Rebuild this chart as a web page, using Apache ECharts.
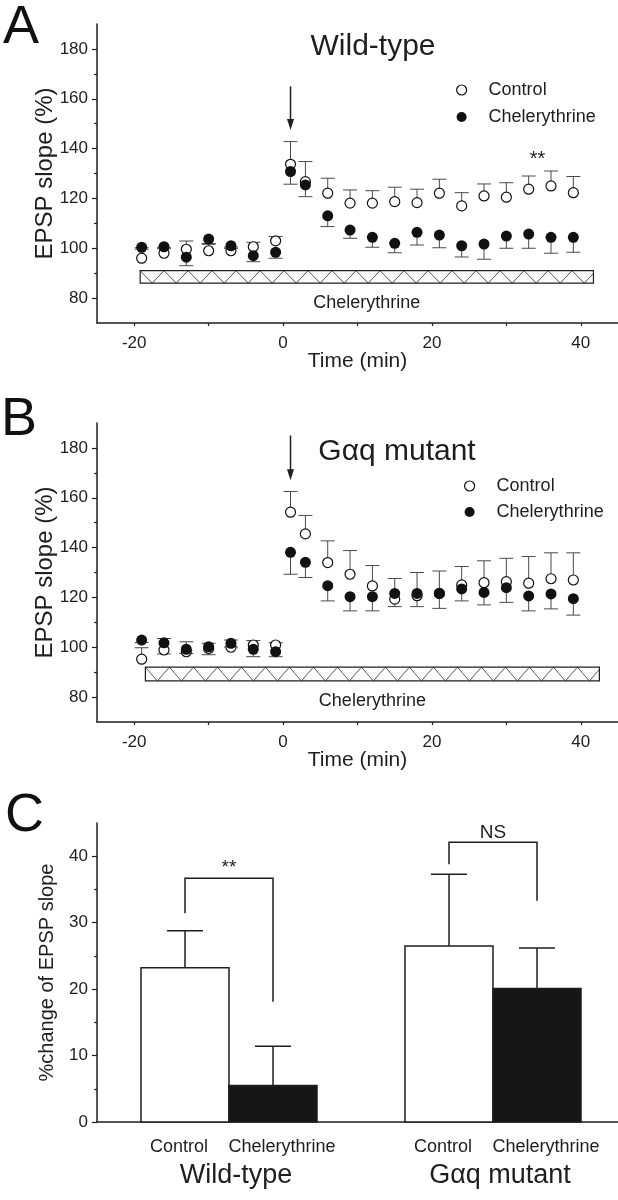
<!DOCTYPE html>
<html><head><meta charset="utf-8">
<script src="https://cdn.jsdelivr.net/npm/echarts@6/dist/echarts.min.js"></script>
<style>html,body{margin:0;padding:0;background:#fff}#c{width:618px;height:1200px}</style>
</head><body><div id="c"></div>
<script>
// ---------- data ----------
const times = [-19,-16,-13,-10,-7,-4,-1,1,3,6,9,12,15,18,21,24,27,30,33,36,39];

const wtControl    = [96.0, 98.0, 99.6, 99.0, 99.0, 100.6, 103.0, 133.7, 126.7, 122.1, 118.1, 118.1, 118.7, 118.3, 122.1, 117.0, 121.0, 120.5, 123.7, 125.0, 122.3];
const wtControlErr = [4.2, 2.4, 3.3, 2.6, 1.5, 1.8, 1.7, 9.1, 8.1, 6.0, 5.3, 5.0, 5.8, 5.4, 5.6, 5.3, 4.8, 5.8, 5.3, 6.0, 6.5];
const wtChel       = [100.4, 100.6, 96.4, 103.7, 101.0, 97.0, 98.4, 130.8, 125.4, 113.0, 107.3, 104.4, 102.0, 106.4, 105.3, 101.0, 101.7, 104.9, 105.7, 104.4, 104.4];
const wtChelErr    = [0.8, 0.8, 3.4, 1.8, 1.0, 2.4, 2.4, 5.1, 4.7, 4.3, 3.3, 4.0, 3.8, 5.1, 5.1, 4.5, 6.1, 4.9, 5.7, 6.4, 6.0];

const mutControl    = [95.2, 98.9, 98.2, 99.5, 100.0, 100.9, 100.9, 154.2, 145.5, 134.0, 129.3, 124.6, 119.3, 120.7, 121.6, 125.0, 125.9, 126.3, 125.7, 127.5, 127.0];
const mutControlErr = [4.6, 4.6, 4.0, 2.1, 2.9, 1.8, 0.9, 8.3, 7.4, 8.7, 9.5, 8.2, 8.3, 9.3, 9.0, 7.4, 8.8, 9.4, 10.7, 10.4, 10.9];
const mutChel       = [102.9, 101.8, 99.2, 100.2, 101.6, 99.2, 98.2, 138.1, 134.1, 124.7, 120.3, 120.3, 121.6, 121.6, 121.6, 123.4, 122.0, 123.9, 120.6, 121.4, 119.5];
const mutChelErr    = [1.0, 4.5, 1.7, 3.2, 1.5, 3.0, 2.0, 8.8, 6.1, 6.1, 5.7, 5.7, 5.3, 5.3, 6.0, 4.8, 5.0, 5.9, 6.0, 6.0, 6.6];

const seriesNames = ['Control', 'Chelerythrine'];
const panelTitles = ['Wild-type', 'Gαq mutant'];
const panelLetters = ['A', 'B', 'C'];
const drugLabel = 'Chelerythrine';

const xTickLabels = [-20, 0, 20, 40];
const xTicks = [-20, -10, 0, 10, 20, 30, 40];
const yTickLabels = [80, 100, 120, 140, 160, 180];
const yMinorTicks = [90, 110, 130, 150, 170];

// drug application bar: [start, end, bottom, top]
const drugA = [-19.2, 41.7, 86, 91];
const drugB = [-18.5, 42.5, 86.5, 92];
// arrow: [time, from, to]
const arrowA = [1, 165, 147.5];
const arrowB = [1, 185, 167];
// significance mark in A: [time, value]
const starA = [34.2, 135.5];
const starALabel = '**';

// panel C
const barCats = ['Control', 'Chelerythrine', 'Control', 'Chelerythrine'];
const barGroups = ['Wild-type', 'Gαq mutant'];
const barValues = [23.2, 5.5, 26.5, 20.1];
const barErr = [5.6, 5.9, 10.8, 6.1];
const cTickLabels = [0, 10, 20, 30, 40];
const cMinorTicks = [5, 15, 25, 35];
// [leftBar, rightBar, top, leftEnd, rightEnd]
const brackets = [[0, 1, 36.7, 31.4, 18.1], [2, 3, 42.1, 38.8, 33.3]];
const bracketLabels = ['**', 'NS'];

// ---------- chart ----------
const FONT = '"Liberation Sans", Arial, Helvetica, sans-serif';
const INK = '#1e1e1e';
const chart = echarts.init(document.getElementById('c'), null, {renderer: 'canvas'});

const slot = i => i + 1 + Math.floor(i / 2);

function timeXAxis(g) {
  return {
    type: 'value', gridIndex: g, min: -25, max: 45,
    axisLine: {onZero: false, lineStyle: {color: INK, width: 1.5}},
    axisTick: {customValues: xTicks, length: 3, lineStyle: {color: INK, width: 1.2}},
    axisLabel: {customValues: xTickLabels, fontSize: 17, color: INK, fontFamily: FONT, margin: 12},
    splitLine: {show: false},
    name: 'Time (min)', nameLocation: 'middle', nameGap: 28, nameMoveOverlap: false,
    nameTextStyle: {fontSize: 21, color: INK, fontFamily: FONT}
  };
}
function majorY(g, min, max, labels, name, gap, nameSize) {
  return {
    type: 'value', gridIndex: g, min: min, max: max, position: 'left',
    axisLine: {show: true, onZero: false, lineStyle: {color: INK, width: 1.5}},
    axisTick: {show: true, customValues: labels, length: 5, lineStyle: {color: INK, width: 1.2}},
    axisLabel: {customValues: labels, fontSize: 17, color: INK, fontFamily: FONT, margin: 9},
    splitLine: {show: false},
    name: name, nameLocation: 'middle', nameRotate: 90, nameGap: gap, nameMoveOverlap: false,
    nameTextStyle: {fontSize: nameSize, color: INK, fontFamily: FONT}
  };
}
function minorY(g, min, max, ticks) {
  return {
    type: 'value', gridIndex: g, min: min, max: max, position: 'left',
    axisLine: {show: false, onZero: false},
    axisTick: {show: true, customValues: ticks, length: 3, lineStyle: {color: INK, width: 1.2}},
    axisLabel: {show: false}, splitLine: {show: false}
  };
}

function errRender(dir) {
  return function (params, api) {
    const t = api.value(0), v = api.value(1), e = api.value(2);
    const p0 = api.coord([t, v]);
    const p1 = api.coord([t, v + dir * e]);
    const hw = 7;
    return {type: 'group', children: [
      {type: 'line', shape: {x1: p0[0], y1: p0[1], x2: p1[0], y2: p1[1]}, style: {stroke: '#4a4a4a', lineWidth: 1}},
      {type: 'line', shape: {x1: p1[0] - hw, y1: p1[1], x2: p1[0] + hw, y2: p1[1]}, style: {stroke: '#4a4a4a', lineWidth: 1}}
    ]};
  };
}

function hatchRender(params, api) {
  const a = api.coord([api.value(0), api.value(3)]);
  const b = api.coord([api.value(1), api.value(2)]);
  const w = b[0] - a[0], h = b[1] - a[1];
  const half = 12;
  const pts = [];
  let x = a[0], top = true;
  while (x <= b[0]) { pts.push([x, top ? a[1] : b[1]]); x += half; top = !top; }
  const last = pts[pts.length - 1];
  if (last[0] < b[0]) {
    const f = (b[0] - last[0]) / half;
    const yEnd = top ? b[1] - f * h : a[1] + f * h;
    pts.push([b[0], yEnd]);
  }
  return {type: 'group', children: [
    {type: 'polyline', shape: {points: pts}, style: {stroke: '#444', lineWidth: 0.9, fill: null}},
    {type: 'rect', shape: {x: a[0], y: a[1], width: w, height: h}, style: {stroke: INK, lineWidth: 1.2, fill: null}},
    {type: 'text', x: a[0] + w / 2, y: b[1] + 20, style: {text: drugLabel, fontSize: 18, fontFamily: FONT, fill: INK, align: 'center', verticalAlign: 'middle'}}
  ]};
}

function arrowRender(params, api) {
  const p0 = api.coord([api.value(0), api.value(1)]);
  const p1 = api.coord([api.value(0), api.value(2)]);
  const hl = 11, hw = 3.5;
  return {type: 'group', children: [
    {type: 'line', shape: {x1: p0[0], y1: p0[1], x2: p1[0], y2: p1[1] - hl + 2}, style: {stroke: INK, lineWidth: 1.5}},
    {type: 'polygon', shape: {points: [[p1[0] - hw, p1[1] - hl], [p1[0] + hw, p1[1] - hl], [p1[0], p1[1]]]}, style: {fill: INK}}
  ]};
}

function textRender(label, size) {
  return function (params, api) {
    const p = api.coord([api.value(0), api.value(1)]);
    return {type: 'text', x: p[0], y: p[1], style: {text: label, fontSize: size, fontFamily: FONT, fill: INK, align: 'center', verticalAlign: 'middle'}};
  };
}

function panelSeries(p, ctrl, ctrlErr, chel, chelErr, drug, arrow) {
  const xi = p, yi = 2 * p;
  const list = [
    {type: 'custom', xAxisIndex: xi, yAxisIndex: yi, renderItem: hatchRender, data: [drug], encode: {x: [0, 1], y: [2, 3]}, clip: false, silent: true, z: 1},
    {type: 'custom', xAxisIndex: xi, yAxisIndex: yi, renderItem: arrowRender, data: [arrow], encode: {x: 0, y: [1, 2]}, clip: false, silent: true, z: 1},
    {type: 'custom', xAxisIndex: xi, yAxisIndex: yi, renderItem: errRender(1), data: times.map((t, i) => [t, ctrl[i], ctrlErr[i]]), encode: {x: 0, y: 1}, silent: true, z: 2},
    {type: 'custom', xAxisIndex: xi, yAxisIndex: yi, renderItem: errRender(-1), data: times.map((t, i) => [t, chel[i], chelErr[i]]), encode: {x: 0, y: 1}, silent: true, z: 2},
    {name: seriesNames[0], type: 'scatter', xAxisIndex: xi, yAxisIndex: yi, symbol: 'circle', symbolSize: 10,
      itemStyle: {color: '#fff', borderColor: '#111', borderWidth: 1.2, opacity: 1}, data: times.map((t, i) => [t, ctrl[i]]), z: 3},
    {name: seriesNames[1], type: 'scatter', xAxisIndex: xi, yAxisIndex: yi, symbol: 'circle', symbolSize: 11,
      itemStyle: {color: '#111', opacity: 1}, data: times.map((t, i) => [t, chel[i]]), z: 4}
  ];
  return list;
}

function barRender(params, api) {
  const i = params.dataIndex;
  const s = api.value(0), v = api.value(1), e = api.value(2);
  const p0 = api.coord([s - 0.5, 0]);
  const p1 = api.coord([s + 0.5, v]);
  const pc = api.coord([s, v]);
  const pe = api.coord([s, v + e]);
  const dark = i % 2 === 1;
  return {type: 'group', children: [
    {type: 'line', shape: {x1: pc[0], y1: pc[1], x2: pe[0], y2: pe[1]}, style: {stroke: INK, lineWidth: 1.5}},
    {type: 'line', shape: {x1: pe[0] - 18, y1: pe[1], x2: pe[0] + 18, y2: pe[1]}, style: {stroke: INK, lineWidth: 1.5}},
    {type: 'rect', shape: {x: p0[0], y: p1[1], width: p1[0] - p0[0], height: p0[1] - p1[1]},
      style: {fill: dark ? '#161616' : '#fff', stroke: INK, lineWidth: 1.5}}
  ]};
}

function bracketRender(params, api) {
  const i = params.dataIndex;
  const xl = api.value(0), xr = api.value(1);
  const top = api.coord([xl, api.value(2)]);
  const le = api.coord([xl, api.value(3)]);
  const tr = api.coord([xr, api.value(2)]);
  const re = api.coord([xr, api.value(4)]);
  return {type: 'group', children: [
    {type: 'polyline', shape: {points: [le, top, tr, re]}, style: {stroke: INK, lineWidth: 1.5, fill: null}},
    {type: 'text', x: (top[0] + tr[0]) / 2, y: top[1] - 10, style: {text: bracketLabels[i], fontSize: 19, fontFamily: FONT, fill: INK, align: 'center', verticalAlign: 'middle'}}
  ]};
}

function catLabelRender(params, api) {
  const i = params.dataIndex;
  const p = api.coord([api.value(0), 0]);
  const dx = i % 2 === 1 ? 9 : -6;
  return {type: 'text', x: p[0] + dx, y: p[1] + 25, style: {text: barCats[i], fontSize: 18, fontFamily: FONT, fill: INK, align: 'center', verticalAlign: 'middle'}};
}
function groupLabelRender(params, api) {
  const j = params.dataIndex;
  const p = api.coord([api.value(0), 0]);
  return {type: 'text', x: p[0] + 7, y: p[1] + 54, style: {text: barGroups[j], fontSize: 27, fontFamily: FONT, fill: INK, align: 'center', verticalAlign: 'middle'}};
}

const series = [].concat(
  panelSeries(0, wtControl, wtControlErr, wtChel, wtChelErr, drugA, arrowA),
  panelSeries(1, mutControl, mutControlErr, mutChel, mutChelErr, drugB, arrowB),
  [
    {type: 'custom', xAxisIndex: 0, yAxisIndex: 0, renderItem: textRender(starALabel, 20), data: [starA], encode: {x: 0, y: 1}, clip: false, silent: true, z: 5},
    {type: 'custom', xAxisIndex: 2, yAxisIndex: 4, renderItem: barRender, data: barValues.map((v, i) => [slot(i), v, barErr[i]]), encode: {x: 0, y: 1}, clip: false, silent: true, z: 2},
    {type: 'custom', xAxisIndex: 2, yAxisIndex: 4, renderItem: bracketRender, data: brackets.map(b => [slot(b[0]), slot(b[1]), b[2], b[3], b[4]]), encode: {x: [0, 1], y: [2, 3, 4]}, clip: false, silent: true, z: 2},
    {type: 'custom', xAxisIndex: 2, yAxisIndex: 4, renderItem: catLabelRender, data: barCats.map((c, i) => [slot(i), 0]), encode: {x: 0, y: 1}, clip: false, silent: true, z: 2},
    {type: 'custom', xAxisIndex: 2, yAxisIndex: 4, renderItem: groupLabelRender, data: barGroups.map((g, j) => [(slot(2 * j) + slot(2 * j + 1)) / 2, 0]), encode: {x: 0, y: 1}, clip: false, silent: true, z: 2}
  ]
);

function legendFor(left, top, gap) {
  return {
    orient: 'vertical', left: left, top: top, padding: 0, itemGap: gap,
    itemWidth: 10, itemHeight: 10, selectedMode: false,
    data: [
      {name: seriesNames[0], icon: 'circle', itemStyle: {color: '#fff', borderColor: '#111', borderWidth: 1.2}},
      {name: seriesNames[1], icon: 'circle', itemStyle: {color: '#111', borderWidth: 0}}
    ],
    textStyle: {fontSize: 18, lineHeight: 18, color: INK, fontFamily: FONT, padding: [0, 0, 0, 17]}
  };
}

function letter(txt, x, y) {
  return {type: 'text', x: x, y: y, style: {text: txt, fontSize: 54, fontFamily: FONT, fill: '#111', align: 'left', verticalAlign: 'middle'}};
}
function title(txt, x, y) {
  return {type: 'text', x: x, y: y, style: {text: txt, fontSize: 30, fontFamily: FONT, fill: INK, align: 'center', verticalAlign: 'middle'}};
}

const option = {
  backgroundColor: '#fff',
  animation: false,
  grid: [
    {left: 97, top: 24, width: 521, height: 299},
    {left: 97, top: 423, width: 521, height: 299},
    {left: 97, top: 823, width: 521, height: 299}
  ],
  xAxis: [
    timeXAxis(0), timeXAxis(1),
    {type: 'value', gridIndex: 2, min: 0, max: 521 / 88,
      axisLine: {onZero: false, lineStyle: {color: INK, width: 1.5}}, axisTick: {show: false}, axisLabel: {show: false}, splitLine: {show: false}}
  ],
  yAxis: [
    majorY(0, 70, 190, yTickLabels, 'EPSP slope (%)', 40, 24), minorY(0, 70, 190, yMinorTicks),
    majorY(1, 70, 190, yTickLabels, 'EPSP slope (%)', 40, 24), minorY(1, 70, 190, yMinorTicks),
    majorY(2, 0, 45, cTickLabels, '%change of EPSP slope', 40, 20), minorY(2, 0, 45, cMinorTicks)
  ],
  legend: [legendFor(456, 81, 9), legendFor(464, 477, 8)],
  graphic: [
    letter(panelLetters[0], 3, 28),
    letter(panelLetters[1], 1, 420),
    letter(panelLetters[2], 5, 816),
    title(panelTitles[0], 373, 47),
    title(panelTitles[1], 397, 452)
  ],
  series: series
};
chart.setOption(option);
</script>
</body></html>
